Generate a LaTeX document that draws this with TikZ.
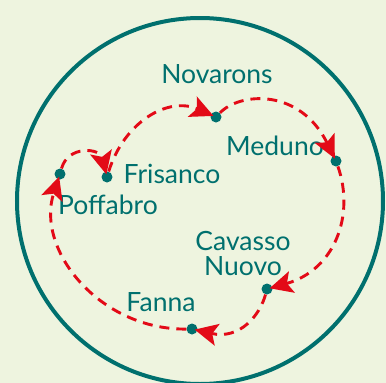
\documentclass[tikz,border=0pt]{standalone}
\usepackage{fontspec}
\setmainfont{Lato}
\usetikzlibrary{arrows.meta}
\definecolor{mapteal}{RGB}{0,112,110}
\definecolor{mapred}{RGB}{227,10,23}
\definecolor{paper}{RGB}{238,244,223}
\begin{document}
\begin{tikzpicture}[x=1pt,y=-1pt,
  town/.style={circle,fill=mapteal,inner sep=0pt,minimum size=11pt},
  place/.style={text=mapteal,font=\fontsize{26.5}{25}\selectfont,anchor=base,inner sep=0pt},
  road/.style={draw=mapred,line width=2.9pt,dash pattern=on 10pt off 7pt,
    -{Stealth[length=23pt,width=22pt,inset=5pt]},shorten >=-3pt}]
\fill[paper] (0,0) rectangle (386,383);
\useasboundingbox (0,0) rectangle (386,383);
\draw[mapteal,line width=4pt] (200,201) circle [radius=183pt];

\node[town] (pof) at (60,174) {};
\node[town] (fri) at (107,177) {};
\node[town] (nov) at (216,117) {};
\node[town] (med) at (336,161) {};
\node[town] (cav) at (267,289) {};
\node[town] (fan) at (192,329) {};

\node[place] (novname) at (217,83) {Novarons};
\node[place] (medname) at (275,155) {Meduno};
\node[place] (friname) at (172,183) {Frisanco};
\node[place] (pofname) at (108,214) {Poffabro};
\node[place,align=center] (cavname) at (243,275) {Cavasso\\Nuovo};
\node[place] (fanname) at (161,311) {Fanna};

\draw[road] (pof) .. controls (68,145) and (100,148) .. (fri);
\draw[road] (fri) .. controls (124,122) and (168,96) .. (nov);
\draw[road] (nov) .. controls (240,92) and (300,88) .. (med);
\draw[road] (med) .. controls (355,215) and (335,270) .. (cav);
\draw[road] (cav) .. controls (260,315) and (240,340) .. (fan);
\draw[road] (fan) .. controls (100,330) and (35,250) .. (pof);

\end{tikzpicture}
\end{document}
